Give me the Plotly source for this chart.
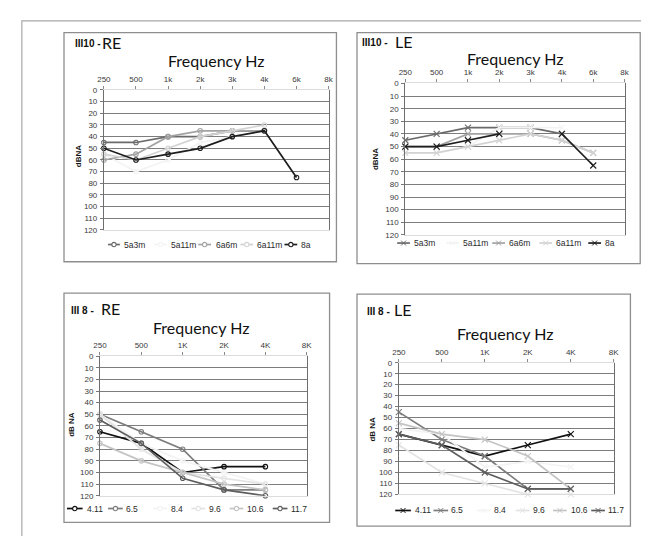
import plotly.graph_objects as go

W, H = 649, 536

# ---------------- data ----------------
freq_iii10 = ["250", "500", "1k", "2k", "3k", "4k", "6k", "8k"]
freq_iii8 = ["250", "500", "1K", "2K", "4K", "8K"]

iii10_ages = ["5a3m", "5a11m", "6a6m", "6a11m", "8a"]
iii8_ages = ["4.11", "6.5", "8.4", "9.6", "10.6", "11.7"]

re10_5a3m = [45, 45, 40, 40, 35, 35, None, None]
re10_5a11m = [55, 70, 60, 45, 40, 35, None, None]
re10_6a6m = [60, 55, 40, 35, 35, 35, None, None]
re10_6a11m = [55, 60, 50, 40, 35, 30, None, None]
re10_8a = [50, 60, 55, 50, 40, 35, 75, None]

le10_5a3m = [45, 40, 35, 35, 35, 40, None, None]
le10_5a11m = [55, 55, 50, 35, 35, 35, None, None]
le10_6a6m = [50, 50, 40, 40, 40, 45, 55, None]
le10_6a11m = [55, 55, 50, 45, 40, 45, 55, None]
le10_8a = [50, 50, 45, 40, None, 40, 65, None]

re8_411 = [65, 75, 100, 95, 95, None]
re8_65 = [50, 65, 80, 115, 115, None]
re8_84 = [50, 75, 90, 100, 110, None]
re8_96 = [50, 80, 100, 105, 110, None]
re8_106 = [75, 90, 100, 110, 115, None]
re8_117 = [55, 75, 105, 115, 120, None]

le8_411 = [65, 75, 85, 75, 65, None]
le8_65 = [45, 70, 85, 115, 115, None]
le8_84 = [60, 65, 95, 90, 95, None]
le8_96 = [75, 100, 110, 120, 120, None]
le8_106 = [55, 65, 70, 85, 115, None]
le8_117 = [65, 75, 100, 115, 115, None]

db_ticks = list(range(0, 121, 10))

# ---------------- styles / geometry ----------------
col10 = ["#6a6a6a", "#f3f3f3", "#a3a3a3", "#d3d3d3", "#1e1e1e"]
col8 = ["#111111", "#7c7c7c", "#f3f3f3", "#e3e3e3", "#c4c4c4", "#5e5e5e"]

SANS = "Liberation Sans"
TITLEF = "Lato"


def px(x):
    return x / W


def py(y):
    return 1 - y / H


panels = [
    dict(labels=freq_iii10, names=iii10_ages, colors=col10, symbol="circle-open",
         series=[re10_5a3m, re10_5a11m, re10_6a6m, re10_6a11m, re10_8a],
         frame=(50, 21, 328, 254), plot=(90.7, 79.3, 320, 221.7),
         t1=("III10 -", 59, 32), t2=("RE", 87, 31), freq=(205, 49),
         ylab=("dBNA", 65, 147), leg_y=236.5,
         leg_line=[(95, 107), (142, 155), (187, 200), (230, 243), (275, 288)],
         leg_text=[109, 157, 203, 245, 290]),
    dict(labels=freq_iii10, names=iii10_ages, colors=col10, symbol="x-thin-open",
         series=[le10_5a3m, le10_5a11m, le10_6a6m, le10_6a11m, le10_8a],
         frame=(349, 21, 638, 256), plot=(398.3, 72.7, 622, 226.7),
         t1=("III10 -", 352, 31), t2=("LE", 386, 30), freq=(510, 47),
         ylab=("dBNA", 368, 150), leg_y=235,
         leg_line=[(390, 403), (440, 453), (487, 500), (535, 548), (585, 598)],
         leg_text=[405, 455, 502, 550, 600]),
    dict(labels=freq_iii8, names=iii8_ages, colors=col8, symbol="circle-open",
         series=[re8_411, re8_65, re8_84, re8_96, re8_106, re8_117],
         frame=(50, 286, 321, 519), plot=(86.7, 350, 297.7, 492),
         t1=("III 8 -", 55, 304), t2=("RE", 86, 302), freq=(190, 321),
         ylab=("dB NA", 58, 419), leg_y=505,
         leg_line=[(53, 69), (95, 110), (141, 155), (180, 194), (219, 233), (263, 278)],
         leg_text=[71, 111, 157, 196, 235, 280]),
    dict(labels=freq_iii8, names=iii8_ages, colors=col8, symbol="x-thin-open",
         series=[le8_411, le8_65, le8_84, le8_96, le8_106, le8_117],
         frame=(349, 287, 628, 523), plot=(391.7, 356.7, 611, 490.7),
         t1=("III 8 -", 357, 305), t2=("LE", 385, 303), freq=(500, 327),
         ylab=("dB NA", 365, 424), leg_y=507,
         leg_line=[(388, 404), (427, 442), (471, 485), (511, 525), (549, 563), (588, 602)],
         leg_text=[406, 443, 487, 527, 565, 603]),
]

fig = go.Figure()
shapes = []
annotations = []

# outer border
shapes.append(dict(type="rect", xref="paper", yref="paper",
                   x0=px(7), x1=px(645), y0=py(545), y1=py(9),
                   line=dict(color="#a8a8a8", width=1.2), layer="below"))

for i, p in enumerate(panels, start=1):
    xa = "x" if i == 1 else f"x{i}"
    ya = "y" if i == 1 else f"y{i}"
    xkey = "xaxis" if i == 1 else f"xaxis{i}"
    ykey = "yaxis" if i == 1 else f"yaxis{i}"
    n = len(p["labels"])
    idx = list(range(n))
    for name, vals, c in zip(p["names"], p["series"], p["colors"]):
        fig.add_trace(go.Scatter(
            x=idx, y=vals, name=name, mode="lines+markers", xaxis=xa, yaxis=ya,
            line=dict(color=c, width=1.7), connectgaps=False, cliponaxis=False,
            marker=dict(symbol=p["symbol"], size=4.5 if "circle" in p["symbol"] else 6,
                        color=c, line=dict(color=c, width=1.1)),
            showlegend=False, hoverinfo="skip"))
    x0, y0, x1, y1 = p["plot"]
    fig.update_layout(**{
        xkey: dict(domain=[px(x0), px(x1)], range=[0, n - 1], anchor=ya, side="top",
                   tickmode="array", tickvals=idx, ticktext=p["labels"],
                   showgrid=False, zeroline=False, ticks="outside", ticklen=3,
                   tickcolor="#8a8a8a", showline=True, linecolor="#dcdcdc", linewidth=1,
                   mirror=True, ticklabelstandoff=1,
                   tickfont=dict(family=SANS, size=8, color="#3a3a3a")),
        ykey: dict(domain=[py(y1), py(y0)], range=[120, 0], anchor=xa,
                   tickmode="array", tickvals=db_ticks, showgrid=False, zeroline=False,
                   ticks="outside", ticklen=3, tickcolor="#7a7a7a",
                   showline=True, linecolor="#6e6e6e", linewidth=1, mirror=True,
                   ticklabelstandoff=1,
                   minor=dict(tickvals=db_ticks[1:-1], showgrid=True,
                              gridcolor="#7d7d7d", gridwidth=1, ticks=""),
                   tickfont=dict(family=SANS, size=8, color="#3a3a3a")),
    })
    # frame
    fx0, fy0, fx1, fy1 = p["frame"]
    shapes.append(dict(type="rect", xref="paper", yref="paper",
                       x0=px(fx0), x1=px(fx1), y0=py(fy1), y1=py(fy0),
                       line=dict(color="#8e8e8e", width=1.3), layer="below"))
    # titles
    t, tx, ty = p["t1"]
    annotations.append(dict(text=f"<b>{t}</b>", x=px(tx), y=py(ty), xref="paper", yref="paper",
                            xanchor="left", yanchor="middle", showarrow=False,
                            font=dict(family=SANS, size=10, color="#111")))
    t, tx, ty = p["t2"]
    annotations.append(dict(text=t, x=px(tx), y=py(ty), xref="paper", yref="paper",
                            xanchor="left", yanchor="middle", showarrow=False,
                            font=dict(family=TITLEF, size=16, color="#111")))
    fxc, fyc = p["freq"]
    annotations.append(dict(text="Frequency Hz", x=px(fxc), y=py(fyc), xref="paper", yref="paper",
                            xanchor="center", yanchor="middle", showarrow=False,
                            font=dict(family=TITLEF, size=16, color="#111")))
    t, tx, ty = p["ylab"]
    annotations.append(dict(text=f"<b>{t}</b>", x=px(tx), y=py(ty), xref="paper", yref="paper",
                            xanchor="center", yanchor="middle", showarrow=False, textangle=-90,
                            font=dict(family=SANS, size=8, color="#111")))
    # legend (manual, compact keys)
    ly = p["leg_y"]
    for name, c, (lx0, lx1), tx in zip(p["names"], p["colors"], p["leg_line"], p["leg_text"]):
        shapes.append(dict(type="line", xref="paper", yref="paper",
                           x0=px(lx0), x1=px(lx1), y0=py(ly), y1=py(ly),
                           line=dict(color=c, width=1.7)))
        mx = (lx0 + lx1) / 2
        if "circle" in p["symbol"]:
            shapes.append(dict(type="circle", xref="paper", yref="paper",
                               x0=px(mx - 2.2), x1=px(mx + 2.2), y0=py(ly + 2.2), y1=py(ly - 2.2),
                               line=dict(color=c, width=1.1), fillcolor="white"))
        else:
            for dy in (-2.5, 2.5):
                shapes.append(dict(type="line", xref="paper", yref="paper",
                                   x0=px(mx - 2.5), x1=px(mx + 2.5),
                                   y0=py(ly - dy), y1=py(ly + dy),
                                   line=dict(color=c, width=1)))
        annotations.append(dict(text=name, x=px(tx), y=py(ly), xref="paper", yref="paper",
                                xanchor="left", yanchor="middle", showarrow=False,
                                font=dict(family=SANS, size=8.5, color="#2a2a2a")))

fig.update_layout(width=W, height=H, margin=dict(l=0, r=0, t=0, b=0),
                  paper_bgcolor="white", plot_bgcolor="white",
                  showlegend=False, shapes=shapes, annotations=annotations)

fig.write_html("out.html")
